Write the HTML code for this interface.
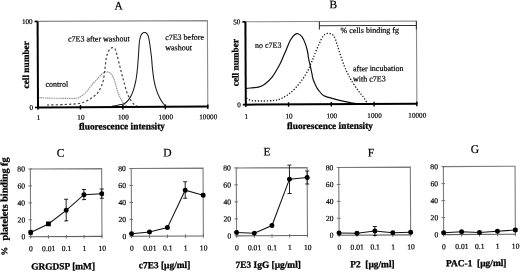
<!DOCTYPE html>
<html><head><meta charset="utf-8"><style>
html,body{margin:0;padding:0;background:#fff;}
body{width:520px;height:272px;overflow:hidden;}
svg{display:block;font-family:"Liberation Serif", serif;text-rendering:geometricPrecision;will-change:transform;}
text{stroke:#000;stroke-width:0.2px;paint-order:stroke;}
text[font-weight="bold"]{stroke-width:0.28px;}
</style></head><body>
<svg width="520" height="272" viewBox="0 0 520 272">
<g>
<rect width="520" height="272" fill="#fff"/>
<g transform="rotate(-0.28 260 136)">
<path d="M38.49,96.42 C39.86,96.52 43.07,96.91 46.69,97.06 C50.30,97.21 55.22,97.27 60.19,97.32 C65.15,97.38 72.98,97.74 76.49,97.40 C79.99,97.07 79.74,96.17 81.20,95.33 C82.65,94.48 83.80,93.71 85.21,92.35 C86.62,90.99 88.13,88.94 89.64,87.17 C91.15,85.39 92.67,83.46 94.26,81.69 C95.86,79.91 97.76,78.01 99.19,76.51 C100.61,75.02 101.69,73.64 102.81,72.73 C103.93,71.82 104.91,71.26 105.92,71.05 C106.92,70.83 107.93,71.14 108.81,71.46 C109.70,71.78 110.49,72.25 111.21,72.97 C111.92,73.69 112.50,74.58 113.09,75.78 C113.69,76.98 114.16,78.35 114.77,80.19 C115.38,82.03 116.17,84.81 116.74,86.80 C117.31,88.79 117.67,90.52 118.21,92.11 C118.76,93.69 119.15,94.66 119.99,96.32 C120.83,97.97 122.24,100.61 123.26,102.03 C124.29,103.45 125.34,104.21 126.15,104.85 C126.96,105.48 127.81,105.69 128.15,105.86" fill="none" stroke="#9a9a9a" stroke-width="1.15" stroke-dasharray="1.6 0.6"/>
<path d="M47.15,103.96 C50.15,103.89 59.82,103.77 65.16,103.55 C70.49,103.32 75.49,103.23 79.16,102.62 C82.83,102.00 84.84,100.93 87.17,99.85 C89.51,98.78 91.40,97.49 93.19,96.18 C94.98,94.88 96.66,93.50 97.91,92.01 C99.17,90.51 99.81,89.20 100.74,87.22 C101.66,85.24 102.72,83.31 103.47,80.13 C104.22,76.95 104.71,71.87 105.23,68.14 C105.75,64.41 106.12,60.31 106.58,57.75 C107.04,55.18 107.36,54.35 108.00,52.76 C108.65,51.16 109.54,49.15 110.43,48.17 C111.32,47.19 112.45,46.78 113.33,46.88 C114.22,46.99 115.06,47.62 115.72,48.79 C116.39,49.96 116.64,51.47 117.30,53.90 C117.95,56.34 118.87,60.23 119.65,63.41 C120.44,66.60 121.25,70.05 122.01,73.02 C122.76,76.00 123.30,78.06 124.17,81.24 C125.03,84.41 126.08,88.96 127.21,92.05 C128.35,95.14 129.70,97.71 130.98,99.77 C132.25,101.83 133.82,103.40 134.85,104.39 C135.88,105.38 136.76,105.48 137.15,105.70" fill="none" stroke="#444" stroke-width="1.2" stroke-dasharray="2.2 2.2"/>
<path d="M112.15,105.58 C113.10,105.40 115.73,104.96 117.85,104.50 C119.97,104.05 122.92,103.88 124.86,102.84 C126.80,101.80 128.07,100.32 129.48,98.26 C130.89,96.20 132.21,93.57 133.32,90.48 C134.44,87.39 135.42,83.54 136.17,79.69 C136.93,75.85 137.38,71.70 137.83,67.40 C138.29,63.10 138.58,58.12 138.90,53.91 C139.22,49.69 139.43,45.06 139.76,42.11 C140.09,39.16 140.40,37.76 140.89,36.22 C141.38,34.67 142.00,33.56 142.70,32.83 C143.41,32.10 144.36,31.85 145.11,31.84 C145.86,31.82 146.56,32.01 147.20,32.75 C147.85,33.48 148.45,34.20 148.99,36.26 C149.53,38.31 149.96,41.63 150.44,45.06 C150.93,48.50 151.50,53.14 151.89,56.87 C152.27,60.61 152.34,63.66 152.73,67.47 C153.13,71.29 153.64,76.18 154.27,79.78 C154.91,83.39 155.64,86.26 156.53,89.09 C157.41,91.93 158.45,94.49 159.59,96.81 C160.73,99.13 162.28,101.61 163.36,103.03 C164.44,104.45 165.60,104.95 166.05,105.34" fill="none" stroke="#1a1a1a" stroke-width="1.05"/>
<path d="M38.15,20.33 H207.95 V106.33" fill="none" stroke="#8a8a8a" stroke-width="1.1"/>
<path d="M38.15,20.33 V107.13" stroke="#000" stroke-width="2"/>
<path d="M37.35,106.33 H208.45" stroke="#000" stroke-width="2"/>
<path d="M35.15,20.33 H38.15 M35.15,106.33 H38.15" stroke="#000" stroke-width="1.6"/>
<path d="M38.15,104.13 V108.73" stroke="#000" stroke-width="1.4"/>
<text x="38.55" y="118.93" font-size="7.2" text-anchor="middle">1</text>
<path d="M80.60,104.13 V108.73" stroke="#000" stroke-width="1.4"/>
<text x="81.00" y="118.93" font-size="7.2" text-anchor="middle">10</text>
<path d="M123.05,104.13 V108.73" stroke="#000" stroke-width="1.4"/>
<text x="123.45" y="118.93" font-size="7.2" text-anchor="middle">100</text>
<path d="M165.50,104.13 V108.73" stroke="#000" stroke-width="1.4"/>
<text x="165.90" y="118.93" font-size="7.2" text-anchor="middle">1000</text>
<path d="M207.95,104.13 V108.73" stroke="#000" stroke-width="1.4"/>
<text x="208.35" y="118.93" font-size="7.2" text-anchor="middle">10000</text>
<text x="33.25" y="22.83" font-size="7.2" text-anchor="end">100</text>
<text x="33.25" y="108.83" font-size="7.2" text-anchor="end">0</text>
<text x="122.03" y="128.63" font-size="9.4" text-anchor="middle" font-weight="bold">fluorescence intensity</text>
<text transform="translate(29.35,63.67) rotate(-90)" font-size="9.3" text-anchor="middle" font-weight="bold">cell number</text>
<text x="119.12" y="8.71" font-size="11.4" text-anchor="middle">A</text>
<text x="68.46" y="40.66" font-size="8">c7E3 after washout</text>
<text x="165.67" y="39.44" font-size="8">c7E3 before</text>
<text x="165.62" y="49.84" font-size="8">washout</text>
<text x="45.74" y="85.75" font-size="8">control</text>
<path d="M246.23,88.43 C247.23,88.32 250.03,88.02 252.24,87.76 C254.44,87.51 257.27,87.52 259.44,86.90 C261.61,86.27 263.06,85.68 265.25,84.03 C267.45,82.37 270.07,80.28 272.59,76.96 C275.10,73.64 278.48,67.52 280.35,64.10 C282.22,60.67 282.71,58.84 283.79,56.42 C284.87,53.99 285.61,52.27 286.82,49.53 C288.04,46.79 289.69,42.38 291.07,39.95 C292.45,37.52 293.84,35.98 295.09,34.97 C296.35,33.96 297.35,33.53 298.60,33.89 C299.85,34.24 301.41,35.48 302.58,37.11 C303.76,38.73 304.78,41.27 305.65,43.62 C306.52,45.98 307.24,48.63 307.81,51.23 C308.39,53.84 308.59,56.67 309.08,59.24 C309.56,61.81 310.20,64.14 310.74,66.65 C311.28,69.15 311.85,72.07 312.30,74.25 C312.76,76.44 312.77,77.64 313.48,79.76 C314.18,81.88 315.55,85.05 316.54,86.98 C317.53,88.90 318.41,89.97 319.42,91.29 C320.43,92.61 321.47,93.97 322.60,94.91 C323.73,95.84 324.43,96.25 326.19,96.92 C327.96,97.60 330.15,98.16 333.18,98.96 C336.21,99.76 340.77,100.89 344.37,101.71 C347.96,102.53 350.79,103.36 354.76,103.86 C358.72,104.37 365.92,104.58 368.15,104.73" fill="none" stroke="#111" stroke-width="1.2"/>
<path d="M246.69,97.93 C247.52,98.37 249.09,100.05 251.67,100.56 C254.25,101.07 258.32,101.02 262.17,101.01 C266.02,101.00 271.49,100.91 274.77,100.47 C278.06,100.04 279.58,99.41 281.88,98.41 C284.19,97.40 286.35,96.08 288.60,94.44 C290.86,92.80 293.15,90.94 295.43,88.57 C297.71,86.20 300.14,83.15 302.27,80.21 C304.40,77.27 306.79,73.51 308.22,70.93 C309.65,68.36 310.01,66.69 310.85,64.75 C311.69,62.80 312.58,60.92 313.28,59.26 C313.97,57.60 313.99,57.18 315.00,54.77 C316.01,52.36 317.90,47.87 319.35,44.79 C320.79,41.71 322.11,38.17 323.69,36.31 C325.26,34.45 327.07,33.66 328.80,33.64 C330.53,33.61 332.65,34.37 334.09,36.16 C335.53,37.95 336.35,41.22 337.45,44.38 C338.55,47.53 339.46,51.34 340.70,55.09 C341.93,58.85 343.57,63.69 344.84,66.91 C346.11,70.14 347.21,72.18 348.30,74.43 C349.39,76.69 349.72,77.70 351.37,80.45 C353.03,83.19 356.12,87.94 358.22,90.88 C360.32,93.82 362.36,95.83 363.99,98.11 C365.61,100.38 367.29,103.46 367.96,104.53" fill="none" stroke="#222" stroke-width="1.35" stroke-dasharray="1.3 1.7"/>
<path d="M245.96,21.75 H417.01 V104.57" fill="none" stroke="#8a8a8a" stroke-width="1.1"/>
<path d="M245.96,21.75 V105.37" stroke="#000" stroke-width="2"/>
<path d="M245.16,104.57 H417.51" stroke="#000" stroke-width="2"/>
<path d="M242.96,21.75 H245.96 M242.96,104.57 H245.96" stroke="#000" stroke-width="1.6"/>
<path d="M245.96,102.37 V106.97" stroke="#000" stroke-width="1.4"/>
<text x="246.36" y="118.57" font-size="7.2" text-anchor="middle">1</text>
<path d="M288.72,102.37 V106.97" stroke="#000" stroke-width="1.4"/>
<text x="289.12" y="118.57" font-size="7.2" text-anchor="middle">10</text>
<path d="M331.48,102.37 V106.97" stroke="#000" stroke-width="1.4"/>
<text x="331.88" y="118.57" font-size="7.2" text-anchor="middle">100</text>
<path d="M374.24,102.37 V106.97" stroke="#000" stroke-width="1.4"/>
<text x="374.64" y="118.57" font-size="7.2" text-anchor="middle">1000</text>
<path d="M417.01,102.37 V106.97" stroke="#000" stroke-width="1.4"/>
<text x="417.41" y="118.57" font-size="7.2" text-anchor="middle">10000</text>
<text x="240.96" y="24.25" font-size="7.2" text-anchor="end">50</text>
<text x="240.96" y="107.07" font-size="7.2" text-anchor="end">0</text>
<text x="330.03" y="129.24" font-size="9.4" text-anchor="middle" font-weight="bold">fluorescence intensity</text>
<text transform="translate(238.76,62.50) rotate(-90)" font-size="9.3" text-anchor="middle" font-weight="bold">cell number</text>
<text x="333.82" y="8.66" font-size="11.4" text-anchor="middle">B</text>
<path d="M319.96,21.89 L319.92,29.69 M319.94,25.99 L416.94,25.97 M416.96,21.87 L416.92,30.37" fill="none" stroke="#333" stroke-width="1.1"/>
<text x="341.10" y="33.40" font-size="8">% cells binding fg</text>
<text x="255.43" y="47.88" font-size="8">no c7E3</text>
<text x="353.32" y="71.66" font-size="8">after incubation</text>
<text x="353.27" y="81.96" font-size="8">with c7E3</text>
<path d="M30.18,235.60 V167.85 H101.48 V235.60" fill="none" stroke="#7a7a7a" stroke-width="1.1"/>
<path d="M29.68,235.60 H101.98" fill="none" stroke="#606060" stroke-width="1.1"/>
<path d="M28.18,235.60 H31.78" stroke="#666" stroke-width="0.9"/>
<text x="24.78" y="238.20" font-size="7.6" text-anchor="end">0</text>
<path d="M28.18,218.66 H31.78" stroke="#666" stroke-width="0.9"/>
<text x="24.78" y="221.26" font-size="7.6" text-anchor="end">20</text>
<path d="M28.18,201.73 H31.78" stroke="#666" stroke-width="0.9"/>
<text x="24.78" y="204.33" font-size="7.6" text-anchor="end">40</text>
<path d="M28.18,184.79 H31.78" stroke="#666" stroke-width="0.9"/>
<text x="24.78" y="187.39" font-size="7.6" text-anchor="end">60</text>
<path d="M28.18,167.85 H31.78" stroke="#666" stroke-width="0.9"/>
<text x="24.78" y="170.45" font-size="7.6" text-anchor="end">80</text>
<path d="M30.18,234.00 V237.60" stroke="#666" stroke-width="0.9"/>
<text x="30.38" y="250.10" font-size="7.6" text-anchor="middle">0</text>
<path d="M48.00,234.00 V237.60" stroke="#666" stroke-width="0.9"/>
<text x="48.20" y="250.10" font-size="7.6" text-anchor="middle">0.01</text>
<path d="M65.83,234.00 V237.60" stroke="#666" stroke-width="0.9"/>
<text x="66.03" y="250.10" font-size="7.6" text-anchor="middle">0.1</text>
<path d="M83.65,234.00 V237.60" stroke="#666" stroke-width="0.9"/>
<text x="83.85" y="250.10" font-size="7.6" text-anchor="middle">1</text>
<path d="M101.48,234.00 V237.60" stroke="#666" stroke-width="0.9"/>
<text x="101.68" y="250.10" font-size="7.6" text-anchor="middle">10</text>
<polyline points="30.18,231.37 48.00,222.90 65.83,209.35 83.65,193.85 101.48,193.00" fill="none" stroke="#111" stroke-width="1.05"/>
<path d="M30.18,233.06 V229.25 M28.18,233.06 H32.18 M28.18,229.25 H32.18" stroke="#222" stroke-width="1"/>
<path d="M65.83,219.93 V198.34 M63.83,219.93 H67.83 M63.83,198.34 H67.83" stroke="#222" stroke-width="1"/>
<path d="M83.65,198.76 V188.60 M81.65,198.76 H85.65 M81.65,188.60 H85.65" stroke="#222" stroke-width="1"/>
<path d="M101.48,197.49 V188.18 M99.48,197.49 H103.48 M99.48,188.18 H103.48" stroke="#222" stroke-width="1"/>
<circle cx="30.18" cy="231.37" r="2.5" fill="#000"/>
<rect x="45.60" y="220.50" width="4.8" height="4.8" fill="#000"/>
<circle cx="65.83" cy="209.35" r="2.5" fill="#000"/>
<circle cx="83.65" cy="193.85" r="2.5" fill="#000"/>
<circle cx="101.48" cy="193.00" r="2.5" fill="#000"/>
<text x="30.60" y="268.38" font-size="9.4" font-weight="bold">GRGDSP [mM]</text>
<text x="60.40" y="155.82" font-size="11.6" text-anchor="middle">C</text>
<path d="M131.08,235.65 V167.85 H202.88 V235.65" fill="none" stroke="#7a7a7a" stroke-width="1.1"/>
<path d="M130.58,235.65 H203.38" fill="none" stroke="#606060" stroke-width="1.1"/>
<path d="M129.08,235.65 H132.68" stroke="#666" stroke-width="0.9"/>
<text x="125.68" y="238.25" font-size="7.6" text-anchor="end">0</text>
<path d="M129.08,218.70 H132.68" stroke="#666" stroke-width="0.9"/>
<text x="125.68" y="221.30" font-size="7.6" text-anchor="end">20</text>
<path d="M129.08,201.75 H132.68" stroke="#666" stroke-width="0.9"/>
<text x="125.68" y="204.35" font-size="7.6" text-anchor="end">40</text>
<path d="M129.08,184.80 H132.68" stroke="#666" stroke-width="0.9"/>
<text x="125.68" y="187.40" font-size="7.6" text-anchor="end">60</text>
<path d="M129.08,167.85 H132.68" stroke="#666" stroke-width="0.9"/>
<text x="125.68" y="170.45" font-size="7.6" text-anchor="end">80</text>
<path d="M131.08,234.05 V237.65" stroke="#666" stroke-width="0.9"/>
<text x="131.28" y="250.15" font-size="7.6" text-anchor="middle">0</text>
<path d="M149.03,234.05 V237.65" stroke="#666" stroke-width="0.9"/>
<text x="149.23" y="250.15" font-size="7.6" text-anchor="middle">0.01</text>
<path d="M166.98,234.05 V237.65" stroke="#666" stroke-width="0.9"/>
<text x="167.18" y="250.15" font-size="7.6" text-anchor="middle">0.1</text>
<path d="M184.93,234.05 V237.65" stroke="#666" stroke-width="0.9"/>
<text x="185.13" y="250.15" font-size="7.6" text-anchor="middle">1</text>
<path d="M202.88,234.05 V237.65" stroke="#666" stroke-width="0.9"/>
<text x="203.08" y="250.15" font-size="7.6" text-anchor="middle">10</text>
<polyline points="131.08,233.10 149.03,231.41 166.98,227.17 184.93,189.88 202.88,194.97" fill="none" stroke="#111" stroke-width="1.05"/>
<path d="M184.93,197.93 V181.41 M182.93,197.93 H186.93 M182.93,181.41 H186.93" stroke="#222" stroke-width="1"/>
<path d="M202.88,196.24 V193.70 M200.88,196.24 H204.88 M200.88,193.70 H204.88" stroke="#222" stroke-width="1"/>
<circle cx="131.08" cy="233.10" r="2.5" fill="#000"/>
<circle cx="149.03" cy="231.41" r="2.5" fill="#000"/>
<circle cx="166.98" cy="227.17" r="2.5" fill="#000"/>
<circle cx="184.93" cy="189.88" r="2.5" fill="#000"/>
<circle cx="202.88" cy="194.97" r="2.5" fill="#000"/>
<text x="138.15" y="267.71" font-size="9.4" font-weight="bold">c7E3 [&#181;g/ml]</text>
<text x="167.40" y="156.05" font-size="11.6" text-anchor="middle">D</text>
<path d="M236.08,235.76 V167.81 H306.98 V235.76" fill="none" stroke="#7a7a7a" stroke-width="1.1"/>
<path d="M235.58,235.76 H307.48" fill="none" stroke="#606060" stroke-width="1.1"/>
<path d="M234.08,235.76 H237.68" stroke="#666" stroke-width="0.9"/>
<text x="230.68" y="238.36" font-size="7.6" text-anchor="end">0</text>
<path d="M234.08,218.77 H237.68" stroke="#666" stroke-width="0.9"/>
<text x="230.68" y="221.37" font-size="7.6" text-anchor="end">20</text>
<path d="M234.08,201.78 H237.68" stroke="#666" stroke-width="0.9"/>
<text x="230.68" y="204.38" font-size="7.6" text-anchor="end">40</text>
<path d="M234.08,184.79 H237.68" stroke="#666" stroke-width="0.9"/>
<text x="230.68" y="187.39" font-size="7.6" text-anchor="end">60</text>
<path d="M234.08,167.81 H237.68" stroke="#666" stroke-width="0.9"/>
<text x="230.68" y="170.41" font-size="7.6" text-anchor="end">80</text>
<path d="M236.08,234.16 V237.76" stroke="#666" stroke-width="0.9"/>
<text x="236.28" y="250.26" font-size="7.6" text-anchor="middle">0</text>
<path d="M253.80,234.16 V237.76" stroke="#666" stroke-width="0.9"/>
<text x="254.00" y="250.26" font-size="7.6" text-anchor="middle">0.01</text>
<path d="M271.53,234.16 V237.76" stroke="#666" stroke-width="0.9"/>
<text x="271.73" y="250.26" font-size="7.6" text-anchor="middle">0.1</text>
<path d="M289.25,234.16 V237.76" stroke="#666" stroke-width="0.9"/>
<text x="289.45" y="250.26" font-size="7.6" text-anchor="middle">1</text>
<path d="M306.98,234.16 V237.76" stroke="#666" stroke-width="0.9"/>
<text x="307.18" y="250.26" font-size="7.6" text-anchor="middle">10</text>
<polyline points="236.08,232.36 253.80,233.21 271.53,225.56 289.25,179.27 306.98,177.75" fill="none" stroke="#111" stroke-width="1.05"/>
<path d="M289.25,193.71 V165.26 M287.25,193.71 H291.25 M287.25,165.26 H291.25" stroke="#222" stroke-width="1"/>
<path d="M306.98,184.12 V171.20 M304.98,184.12 H308.98 M304.98,171.20 H308.98" stroke="#222" stroke-width="1"/>
<circle cx="236.08" cy="232.36" r="2.5" fill="#000"/>
<circle cx="253.80" cy="233.21" r="2.5" fill="#000"/>
<circle cx="271.53" cy="225.56" r="2.5" fill="#000"/>
<circle cx="289.25" cy="179.27" r="2.5" fill="#000"/>
<circle cx="306.98" cy="177.75" r="2.5" fill="#000"/>
<text x="234.96" y="267.78" font-size="9.4" font-weight="bold">7E3 IgG [&#181;g/ml]</text>
<text x="266.90" y="155.53" font-size="11.6" text-anchor="middle">E</text>
<path d="M338.58,235.61 V167.91 H410.18 V235.61" fill="none" stroke="#7a7a7a" stroke-width="1.1"/>
<path d="M338.08,235.61 H410.68" fill="none" stroke="#606060" stroke-width="1.1"/>
<path d="M336.58,235.61 H340.18" stroke="#666" stroke-width="0.9"/>
<text x="333.18" y="238.21" font-size="7.6" text-anchor="end">0</text>
<path d="M336.58,218.68 H340.18" stroke="#666" stroke-width="0.9"/>
<text x="333.18" y="221.28" font-size="7.6" text-anchor="end">20</text>
<path d="M336.58,201.76 H340.18" stroke="#666" stroke-width="0.9"/>
<text x="333.18" y="204.36" font-size="7.6" text-anchor="end">40</text>
<path d="M336.58,184.83 H340.18" stroke="#666" stroke-width="0.9"/>
<text x="333.18" y="187.43" font-size="7.6" text-anchor="end">60</text>
<path d="M336.58,167.91 H340.18" stroke="#666" stroke-width="0.9"/>
<text x="333.18" y="170.51" font-size="7.6" text-anchor="end">80</text>
<path d="M338.58,234.01 V237.61" stroke="#666" stroke-width="0.9"/>
<text x="338.78" y="250.11" font-size="7.6" text-anchor="middle">0</text>
<path d="M356.48,234.01 V237.61" stroke="#666" stroke-width="0.9"/>
<text x="356.68" y="250.11" font-size="7.6" text-anchor="middle">0.01</text>
<path d="M374.38,234.01 V237.61" stroke="#666" stroke-width="0.9"/>
<text x="374.58" y="250.11" font-size="7.6" text-anchor="middle">0.1</text>
<path d="M392.28,234.01 V237.61" stroke="#666" stroke-width="0.9"/>
<text x="392.48" y="250.11" font-size="7.6" text-anchor="middle">1</text>
<path d="M410.18,234.01 V237.61" stroke="#666" stroke-width="0.9"/>
<text x="410.38" y="250.11" font-size="7.6" text-anchor="middle">10</text>
<polyline points="338.58,233.32 356.48,233.66 374.38,231.55 392.28,233.41 410.18,232.99" fill="none" stroke="#111" stroke-width="1.05"/>
<path d="M374.38,236.03 V227.15 M372.38,236.03 H376.38 M372.38,227.15 H376.38" stroke="#222" stroke-width="1"/>
<circle cx="338.58" cy="233.32" r="2.5" fill="#000"/>
<circle cx="356.48" cy="233.66" r="2.5" fill="#000"/>
<circle cx="374.38" cy="231.55" r="2.5" fill="#000"/>
<circle cx="392.28" cy="233.41" r="2.5" fill="#000"/>
<circle cx="410.18" cy="232.99" r="2.5" fill="#000"/>
<text x="349.56" y="267.74" font-size="9.4" font-weight="bold">P2&#160; [&#181;g/ml]</text>
<text x="370.90" y="157.04" font-size="11.6" text-anchor="middle">F</text>
<path d="M443.18,235.52 V167.52 H514.88 V235.52" fill="none" stroke="#7a7a7a" stroke-width="1.1"/>
<path d="M442.68,235.52 H515.38" fill="none" stroke="#606060" stroke-width="1.1"/>
<path d="M441.18,235.52 H444.78" stroke="#666" stroke-width="0.9"/>
<text x="437.78" y="238.12" font-size="7.6" text-anchor="end">0</text>
<path d="M441.18,218.52 H444.78" stroke="#666" stroke-width="0.9"/>
<text x="437.78" y="221.12" font-size="7.6" text-anchor="end">20</text>
<path d="M441.18,201.52 H444.78" stroke="#666" stroke-width="0.9"/>
<text x="437.78" y="204.12" font-size="7.6" text-anchor="end">40</text>
<path d="M441.18,184.52 H444.78" stroke="#666" stroke-width="0.9"/>
<text x="437.78" y="187.12" font-size="7.6" text-anchor="end">60</text>
<path d="M441.18,167.52 H444.78" stroke="#666" stroke-width="0.9"/>
<text x="437.78" y="170.12" font-size="7.6" text-anchor="end">80</text>
<path d="M443.18,233.92 V237.52" stroke="#666" stroke-width="0.9"/>
<text x="443.38" y="250.02" font-size="7.6" text-anchor="middle">0</text>
<path d="M461.11,233.92 V237.52" stroke="#666" stroke-width="0.9"/>
<text x="461.31" y="250.02" font-size="7.6" text-anchor="middle">0.01</text>
<path d="M479.03,233.92 V237.52" stroke="#666" stroke-width="0.9"/>
<text x="479.23" y="250.02" font-size="7.6" text-anchor="middle">0.1</text>
<path d="M496.96,233.92 V237.52" stroke="#666" stroke-width="0.9"/>
<text x="497.16" y="250.02" font-size="7.6" text-anchor="middle">1</text>
<path d="M514.88,233.92 V237.52" stroke="#666" stroke-width="0.9"/>
<text x="515.08" y="250.02" font-size="7.6" text-anchor="middle">10</text>
<polyline points="443.18,233.65 461.11,232.72 479.03,233.57 496.96,232.38 514.88,231.27" fill="none" stroke="#111" stroke-width="1.05"/>
<path d="M514.88,232.80 V229.74 M512.88,232.80 H516.88 M512.88,229.74 H516.88" stroke="#222" stroke-width="1"/>
<circle cx="443.18" cy="233.65" r="2.5" fill="#000"/>
<circle cx="461.11" cy="232.72" r="2.5" fill="#000"/>
<circle cx="479.03" cy="233.57" r="2.5" fill="#000"/>
<circle cx="496.96" cy="232.38" r="2.5" fill="#000"/>
<circle cx="514.88" cy="231.27" r="2.5" fill="#000"/>
<text x="445.36" y="267.21" font-size="9.4" font-weight="bold">PAC-1&#160; [&#181;g/ml]</text>
<text x="474.91" y="154.05" font-size="11.6" text-anchor="middle">G</text>
<text transform="translate(6.62,254.26) rotate(-90)" font-size="8.6" font-weight="bold">%</text>
<text transform="translate(7.29,239.37) rotate(-90)" font-size="10.2" font-weight="bold">platelets binding fg</text>
</g>
</g>
</svg>
</body></html>
